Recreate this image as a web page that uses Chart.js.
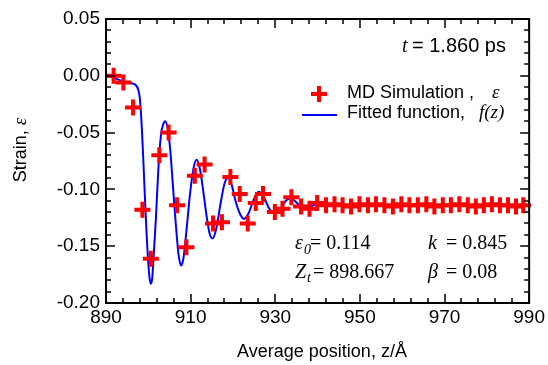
<!DOCTYPE html>
<html>
<head>
<meta charset="utf-8">
<script src="https://cdn.jsdelivr.net/npm/chart.js@4.4.0/dist/chart.umd.min.js"></script>
<style>
  html, body { margin: 0; padding: 0; background: #fff; }
</style>
</head>
<body>
<canvas id="strainChart" width="548" height="365"></canvas>
<script>
// Tick labels
const xTicks = [890, 910, 930, 950, 970, 990];
const yTicks = [-0.20, -0.15, -0.10, -0.05, 0.00, 0.05];

// MD simulation points (average position z, strain)
const mdZ = [891.8, 894.1, 896.4, 898.6, 900.6, 902.6, 904.8, 906.8, 909.0, 911.0,
             913.3, 915.3, 917.4, 919.4, 921.6, 923.5, 925.4, 927.1, 929.9, 931.7,
             933.8, 936.1, 938.1, 939.9, 942.0, 944.0, 945.9, 947.9, 949.9, 951.9,
             953.8, 955.8, 957.8, 959.8, 961.7, 963.7, 965.7, 967.6, 969.6, 971.5,
             973.5, 975.5, 977.4, 979.3, 981.2, 983.1, 985.0, 986.9, 988.6];
const mdStrain = [0.000, -0.006, -0.028, -0.118, -0.161, -0.070, -0.050, -0.114, -0.151, -0.088,
                  -0.078, -0.130, -0.129, -0.089, -0.104, -0.130, -0.112, -0.104, -0.120, -0.117,
                  -0.107, -0.115, -0.117, -0.112, -0.114, -0.113, -0.114, -0.115, -0.113, -0.114,
                  -0.113, -0.114, -0.115, -0.113, -0.114, -0.114, -0.113, -0.115, -0.114, -0.114,
                  -0.113, -0.114, -0.115, -0.114, -0.113, -0.114, -0.114, -0.115, -0.114];

// Fitted function f(z)
const fitZ = [890, 892, 894, 896, 897, 897.6, 898, 898.5, 899, 899.5,
              900, 900.3, 900.6, 900.9, 901.2, 901.8, 902.4, 903, 903.5, 904, 904.6, 905.2,
              905.8, 906.4, 907.1, 907.45, 907.75, 908.05, 908.4, 909.1, 909.8, 910.6, 911.4, 912.2,
              913, 913.8, 914.5, 915.2, 916.1, 917, 918, 918.8, 919.7, 920.6,
              921.6, 922.6, 923.7, 924.8, 926.1, 927.3, 928.6, 929.9, 931.2, 932.5,
              933.6, 934.9, 936.2, 937.4, 939, 941, 944, 950, 990];
const fitStrain = [0, -0.002, -0.005, -0.0065, -0.008, -0.012, -0.020, -0.048, -0.090, -0.132,
                   -0.165, -0.178, -0.183, -0.179, -0.163, -0.125, -0.080, -0.052, -0.043, -0.040, -0.047, -0.066,
                   -0.096, -0.126, -0.156, -0.164, -0.167, -0.165, -0.158, -0.133, -0.106, -0.083, -0.074, -0.082,
                   -0.102, -0.124, -0.139, -0.143, -0.134, -0.114, -0.095, -0.090, -0.096, -0.110,
                   -0.121, -0.126, -0.121, -0.110, -0.102, -0.107, -0.117, -0.121, -0.117, -0.110,
                   -0.108, -0.111, -0.116, -0.117, -0.114, -0.112, -0.114, -0.114, -0.114];

const SANS = "'Liberation Sans', Arial, sans-serif";
const SERIF = "'Liberation Serif', 'Times New Roman', serif";
const RED = '#ff0000';
const BLUE = '#0000ff';

// draws text pieces with different fonts one after the other
function drawRuns(c, x, y, runs) {
    runs.forEach(r => {
        c.font = r.font;
        const px = r.x !== undefined ? r.x : x;
        c.fillText(r.text, px, y + (r.dy || 0));
        x = px + c.measureText(r.text).width;
    });
}

// frame, inward ticks, legend and annotations
const decorPlugin = {
    id: 'decor',
    afterDraw(chart) {
        const c = chart.ctx;
        const a = chart.chartArea;
        const xs = chart.scales.x;
        const ys = chart.scales.y;
        c.save();
        c.strokeStyle = '#000';
        c.lineWidth = 1.5;
        c.beginPath();
        for (let i = 0; i <= 25; i++) {
            const v = 890 + i * 4;
            const px = Math.round(xs.getPixelForValue(v));
            const len = i % 5 === 0 ? 9 : 5;
            c.moveTo(px, a.bottom); c.lineTo(px, a.bottom - len);
            c.moveTo(px, a.top); c.lineTo(px, a.top + len);
        }
        for (let i = 0; i <= 25; i++) {
            const v = -0.2 + i * 0.01;
            const py = Math.round(ys.getPixelForValue(v));
            const len = i % 5 === 0 ? 9 : 5;
            c.moveTo(a.left, py); c.lineTo(a.left + len, py);
            c.moveTo(a.right, py); c.lineTo(a.right - len, py);
        }
        c.stroke();
        c.lineWidth = 2;
        c.strokeRect(a.left, a.top, a.width, a.height);

        c.fillStyle = '#000';
        c.textBaseline = 'alphabetic';
        c.textAlign = 'left';

        // time label
        drawRuns(c, 402, 52, [
            { text: 't', font: 'italic 20px ' + SERIF },
            { text: '= 1.860 ps', font: '20px ' + SANS, x: 412 }
        ]);

        // legend
        c.strokeStyle = RED;
        c.lineWidth = 4;
        c.beginPath();
        c.moveTo(311, 94); c.lineTo(327, 94);
        c.moveTo(319, 86); c.lineTo(319, 102);
        c.stroke();
        c.strokeStyle = BLUE;
        c.lineWidth = 2;
        c.beginPath();
        c.moveTo(302, 115); c.lineTo(337, 115);
        c.stroke();
        drawRuns(c, 347, 98, [
            { text: 'MD Simulation ,', font: '18px ' + SANS },
            { text: 'ε', font: 'italic 19px ' + SERIF, x: 492 }
        ]);
        drawRuns(c, 347, 118, [
            { text: 'Fitted function,', font: '18px ' + SANS },
            { text: 'f(z)', font: 'italic 19px ' + SERIF, x: 479 }
        ]);

        // fit parameters
        drawRuns(c, 295, 249, [
            { text: 'ε', font: 'italic 20px ' + SERIF },
            { text: '0', font: 'italic 14px ' + SERIF, x: 304, dy: 5 },
            { text: '= 0.114', font: '20px ' + SERIF, x: 310 }
        ]);
        drawRuns(c, 295, 278, [
            { text: 'Z', font: 'italic 20px ' + SERIF },
            { text: 't', font: 'italic 14px ' + SERIF, x: 307, dy: 4 },
            { text: '= 898.667', font: '20px ' + SERIF, x: 313 }
        ]);
        drawRuns(c, 428, 249, [
            { text: 'k', font: 'italic 20px ' + SERIF },
            { text: '= 0.845', font: '20px ' + SERIF, x: 446 }
        ]);
        drawRuns(c, 428, 278, [
            { text: 'β', font: 'italic 20px ' + SERIF },
            { text: '= 0.08', font: '20px ' + SERIF, x: 446 }
        ]);

        // axis titles
        c.font = '18px ' + SANS;
        c.textAlign = 'center';
        c.fillText('Average position, z/Å', 322, 357);

        c.translate(26, 150);
        c.rotate(-Math.PI / 2);
        c.textAlign = 'left';
        c.font = '18px ' + SANS;
        const w1 = c.measureText('Strain, ').width;
        c.font = 'italic 19px ' + SERIF;
        const w2 = c.measureText('ε').width;
        const x0 = -(w1 + w2) / 2;
        c.font = '18px ' + SANS;
        c.fillText('Strain, ', x0, 0);
        c.font = 'italic 19px ' + SERIF;
        c.fillText('ε', x0 + w1, 0);
        c.restore();
    }
};

const ctx = document.getElementById('strainChart');

new Chart(ctx, {
    type: 'scatter',
    data: {
        datasets: [{
            label: 'MD Simulation',
            data: mdZ.map((z, i) => ({ x: z, y: mdStrain[i] })),
            showLine: false,
            pointStyle: 'cross',
            pointRadius: 8,
            pointBorderWidth: 4,
            pointBorderColor: RED,
            pointBackgroundColor: RED,
            clip: false,
            order: 0
        }, {
            label: 'Fitted function',
            data: fitZ.map((z, i) => ({ x: z, y: fitStrain[i] })),
            showLine: true,
            borderColor: BLUE,
            borderWidth: 2,
            pointRadius: 0,
            cubicInterpolationMode: 'monotone',
            order: 1
        }]
    },
    options: {
        responsive: false,
        animation: false,
        events: [],
        layout: {
            padding: { top: 19, right: 18, left: 0, bottom: 0 }
        },
        plugins: {
            legend: { display: false },
            tooltip: { enabled: false }
        },
        scales: {
            x: {
                type: 'linear',
                min: 890,
                max: 990,
                grid: { display: false, drawTicks: false },
                border: { display: false },
                afterBuildTicks: s => { s.ticks = xTicks.map(v => ({ value: v })); },
                afterFit: s => { s.height = 62; },
                ticks: {
                    padding: 3,
                    color: '#000',
                    maxRotation: 0,
                    autoSkip: false,
                    font: { family: SANS, size: 19 }
                }
            },
            y: {
                type: 'linear',
                min: -0.2,
                max: 0.05,
                grid: { display: false, drawTicks: false },
                border: { display: false },
                afterBuildTicks: s => { s.ticks = yTicks.map(v => ({ value: v })); },
                afterFit: s => { s.width = 106; },
                ticks: {
                    padding: 6,
                    color: '#000',
                    autoSkip: false,
                    font: { family: SANS, size: 19 },
                    callback: v => v.toFixed(2)
                }
            }
        }
    },
    plugins: [decorPlugin]
});
</script>
</body>
</html>
